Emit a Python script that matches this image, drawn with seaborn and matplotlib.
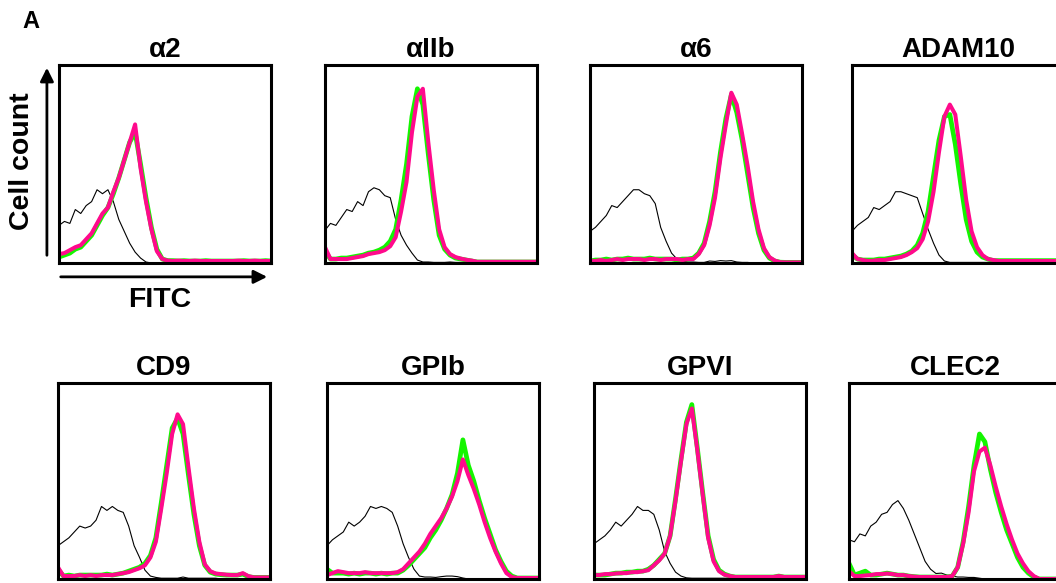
import numpy as np
import pandas as pd
import matplotlib
matplotlib.use("Agg")
import matplotlib.pyplot as plt
import seaborn as sns

# ---------------- data (fraction of panel height, 40 channels across FITC axis) -------------
markers = ["α2", "αIIb", "α6", "ADAM10", "CD9", "GPIb", "GPVI", "CLEC2"]

a2_ctrl = [0.19, 0.21, 0.20, 0.27, 0.25, 0.29, 0.31, 0.37, 0.35, 0.37,
           0.31, 0.22, 0.16, 0.10, 0.055, 0.025, 0.005, 0.0, 0.0, 0.0,
           0.0, 0.0, 0.0, 0.0, 0.0, 0.0, 0.005, 0.0, 0.0, 0.0,
           0.0, 0.0, 0.0, 0.0, 0.0, 0.0, 0.0, 0.0, 0.0, 0.0]
a2_green = [0.03, 0.04, 0.05, 0.07, 0.08, 0.11, 0.14, 0.19, 0.24, 0.28,
            0.35, 0.43, 0.52, 0.61, 0.66, 0.50, 0.33, 0.18, 0.07, 0.02,
            0.012, 0.012, 0.01, 0.012, 0.01, 0.01, 0.01, 0.012, 0.01, 0.01,
            0.01, 0.01, 0.01, 0.01, 0.012, 0.01, 0.01, 0.01, 0.012, 0.01]
a2_pink = [0.045, 0.05, 0.065, 0.08, 0.09, 0.12, 0.15, 0.20, 0.25, 0.28,
           0.36, 0.43, 0.52, 0.61, 0.70, 0.48, 0.31, 0.17, 0.06, 0.02,
           0.012, 0.01, 0.012, 0.01, 0.01, 0.012, 0.01, 0.01, 0.01, 0.01,
           0.01, 0.01, 0.01, 0.012, 0.01, 0.01, 0.012, 0.01, 0.01, 0.01]

a2b_ctrl = [0.165, 0.20, 0.19, 0.23, 0.27, 0.26, 0.31, 0.29, 0.36, 0.38,
            0.37, 0.34, 0.33, 0.22, 0.14, 0.09, 0.05, 0.015, 0.005, 0.005,
            0.003, 0.003, 0.003, 0.005, 0.003, 0.003, 0.003, 0.003, 0.005, 0.003,
            0.0, 0.0, 0.0, 0.0, 0.0, 0.0, 0.0, 0.0, 0.0, 0.0]
a2b_green = [0.06, 0.02, 0.02, 0.025, 0.025, 0.03, 0.035, 0.04, 0.05, 0.055,
             0.065, 0.08, 0.11, 0.17, 0.32, 0.50, 0.74, 0.88, 0.80, 0.55,
             0.32, 0.14, 0.07, 0.04, 0.025, 0.02, 0.015, 0.01, 0.005, 0.005,
             0.005, 0.005, 0.005, 0.005, 0.005, 0.005, 0.005, 0.005, 0.005, 0.005]
a2b_pink = [0.08, 0.02, 0.02, 0.02, 0.02, 0.025, 0.03, 0.035, 0.045, 0.05,
            0.055, 0.065, 0.085, 0.13, 0.26, 0.41, 0.66, 0.84, 0.88, 0.61,
            0.37, 0.17, 0.08, 0.045, 0.03, 0.022, 0.016, 0.012, 0.006, 0.006,
            0.006, 0.006, 0.006, 0.006, 0.006, 0.006, 0.006, 0.006, 0.006, 0.006]

a6_ctrl = [0.16, 0.18, 0.21, 0.24, 0.29, 0.28, 0.31, 0.34, 0.37, 0.37,
           0.35, 0.34, 0.30, 0.18, 0.11, 0.05, 0.02, 0.01, 0.005, 0.005,
           0.003, 0.003, 0.01, 0.008, 0.012, 0.01, 0.012, 0.005, 0.003, 0.003,
           0.0, 0.0, 0.0, 0.0, 0.0, 0.0, 0.0, 0.0, 0.0, 0.0]
a6_green = [0.01, 0.015, 0.015, 0.02, 0.015, 0.02, 0.02, 0.025, 0.02, 0.02,
            0.02, 0.025, 0.02, 0.02, 0.02, 0.02, 0.015, 0.02, 0.02, 0.025,
            0.05, 0.10, 0.21, 0.36, 0.56, 0.73, 0.85, 0.76, 0.62, 0.45,
            0.28, 0.15, 0.065, 0.025, 0.01, 0.004, 0.003, 0.003, 0.003, 0.003]
a6_pink = [0.01, 0.01, 0.015, 0.01, 0.015, 0.02, 0.015, 0.02, 0.02, 0.02,
           0.015, 0.02, 0.02, 0.015, 0.02, 0.02, 0.02, 0.015, 0.02, 0.02,
           0.045, 0.09, 0.19, 0.33, 0.53, 0.70, 0.86, 0.80, 0.65, 0.49,
           0.31, 0.17, 0.075, 0.03, 0.012, 0.004, 0.003, 0.003, 0.003, 0.003]

adam_ctrl = [0.16, 0.19, 0.21, 0.23, 0.28, 0.27, 0.29, 0.31, 0.36, 0.36,
             0.35, 0.34, 0.33, 0.25, 0.17, 0.10, 0.04, 0.01, 0.003, 0.003,
             0.003, 0.003, 0.003, 0.003, 0.003, 0.003, 0.003, 0.01, 0.003, 0.003,
             0.0, 0.0, 0.0, 0.0, 0.0, 0.0, 0.0, 0.0, 0.0, 0.0]
adam_green = [0.04, 0.02, 0.015, 0.015, 0.015, 0.02, 0.02, 0.025, 0.03, 0.035,
              0.045, 0.06, 0.09, 0.15, 0.26, 0.44, 0.62, 0.74, 0.75, 0.60,
              0.40, 0.22, 0.11, 0.055, 0.03, 0.02, 0.012, 0.012, 0.012, 0.012,
              0.012, 0.012, 0.012, 0.012, 0.012, 0.012, 0.012, 0.012, 0.012, 0.012]
adam_pink = [0.05, 0.02, 0.015, 0.01, 0.012, 0.015, 0.015, 0.02, 0.025, 0.03,
             0.04, 0.055, 0.075, 0.12, 0.21, 0.36, 0.56, 0.74, 0.80, 0.75,
             0.54, 0.32, 0.16, 0.08, 0.04, 0.02, 0.015, 0.01, 0.01, 0.01,
             0.01, 0.01, 0.01, 0.01, 0.01, 0.01, 0.01, 0.01, 0.01, 0.01]

cd9_ctrl = [0.17, 0.19, 0.21, 0.24, 0.27, 0.26, 0.27, 0.30, 0.37, 0.35,
            0.37, 0.35, 0.34, 0.27, 0.17, 0.11, 0.045, 0.015, 0.008, 0.004,
            0.004, 0.004, 0.004, 0.01, 0.004, 0.004, 0.004, 0.004, 0.004, 0.004,
            0.0, 0.0, 0.0, 0.0, 0.0, 0.0, 0.0, 0.0, 0.0, 0.0]
cd9_green = [0.05, 0.015, 0.02, 0.015, 0.02, 0.02, 0.02, 0.02, 0.02, 0.025,
             0.02, 0.025, 0.03, 0.04, 0.05, 0.06, 0.08, 0.12, 0.21, 0.39,
             0.58, 0.77, 0.82, 0.74, 0.53, 0.33, 0.17, 0.07, 0.035, 0.025,
             0.022, 0.02, 0.02, 0.02, 0.025, 0.012, 0.008, 0.008, 0.008, 0.008]
cd9_pink = [0.06, 0.015, 0.015, 0.015, 0.02, 0.015, 0.02, 0.015, 0.02, 0.02,
            0.02, 0.025, 0.03, 0.035, 0.045, 0.055, 0.07, 0.11, 0.19, 0.36,
            0.54, 0.74, 0.84, 0.79, 0.57, 0.36, 0.19, 0.075, 0.04, 0.028,
            0.025, 0.022, 0.02, 0.02, 0.03, 0.015, 0.008, 0.008, 0.008, 0.008]

gp1b_ctrl = [0.17, 0.20, 0.22, 0.24, 0.29, 0.27, 0.29, 0.32, 0.37, 0.36,
             0.37, 0.36, 0.34, 0.27, 0.18, 0.11, 0.05, 0.015, 0.01, 0.01,
             0.008, 0.012, 0.015, 0.015, 0.012, 0.005, 0.0, 0.0, 0.0, 0.0,
             0.0, 0.0, 0.0, 0.0, 0.0, 0.0, 0.0, 0.0, 0.0, 0.0]
gp1b_green = [0.05, 0.03, 0.03, 0.03, 0.025, 0.03, 0.025, 0.03, 0.03, 0.025,
              0.03, 0.025, 0.03, 0.03, 0.045, 0.07, 0.10, 0.13, 0.16, 0.21,
              0.25, 0.30, 0.36, 0.43, 0.54, 0.71, 0.58, 0.50, 0.40, 0.31,
              0.23, 0.15, 0.09, 0.04, 0.015, 0.005, 0.005, 0.005, 0.005, 0.005]
gp1b_pink = [0.02, 0.03, 0.04, 0.035, 0.03, 0.03, 0.03, 0.035, 0.03, 0.03,
             0.03, 0.03, 0.03, 0.035, 0.05, 0.08, 0.11, 0.14, 0.18, 0.23,
             0.27, 0.31, 0.36, 0.42, 0.50, 0.61, 0.53, 0.46, 0.38, 0.29,
             0.21, 0.14, 0.08, 0.03, 0.01, 0.005, 0.005, 0.005, 0.005, 0.005]

gp6_ctrl = [0.18, 0.20, 0.22, 0.25, 0.29, 0.27, 0.30, 0.33, 0.37, 0.35,
            0.35, 0.33, 0.25, 0.14, 0.08, 0.035, 0.015, 0.006, 0.004, 0.004,
            0.004, 0.004, 0.004, 0.004, 0.004, 0.004, 0.004, 0.004, 0.004, 0.004,
            0.0, 0.0, 0.0, 0.0, 0.0, 0.0, 0.0, 0.0, 0.0, 0.0]
gp6_green = [0.02, 0.02, 0.02, 0.025, 0.03, 0.03, 0.035, 0.035, 0.04, 0.04,
             0.05, 0.07, 0.10, 0.13, 0.22, 0.41, 0.61, 0.80, 0.89, 0.67,
             0.44, 0.22, 0.10, 0.045, 0.025, 0.015, 0.01, 0.01, 0.01, 0.01,
             0.01, 0.01, 0.01, 0.01, 0.015, 0.01, 0.01, 0.01, 0.01, 0.01]
gp6_pink = [0.02, 0.02, 0.025, 0.025, 0.028, 0.03, 0.03, 0.035, 0.035, 0.04,
            0.045, 0.07, 0.095, 0.13, 0.22, 0.40, 0.60, 0.79, 0.87, 0.66,
            0.43, 0.21, 0.09, 0.04, 0.022, 0.015, 0.01, 0.01, 0.01, 0.01,
            0.01, 0.01, 0.01, 0.01, 0.015, 0.01, 0.01, 0.01, 0.01, 0.01]

clec_ctrl = [0.20, 0.19, 0.23, 0.22, 0.27, 0.29, 0.33, 0.34, 0.38, 0.40,
             0.36, 0.30, 0.23, 0.16, 0.09, 0.05, 0.028, 0.03, 0.02, 0.015,
             0.01, 0.01, 0.008, 0.008, 0.004, 0.0, 0.0, 0.0, 0.0, 0.0,
             0.0, 0.0, 0.0, 0.0, 0.0, 0.0, 0.0, 0.0, 0.0, 0.0]
clec_green = [0.08, 0.02, 0.03, 0.04, 0.02, 0.02, 0.025, 0.03, 0.025, 0.02,
              0.02, 0.015, 0.012, 0.01, 0.01, 0.01, 0.01, 0.01, 0.01, 0.015,
              0.06, 0.19, 0.37, 0.58, 0.74, 0.70, 0.56, 0.44, 0.34, 0.25,
              0.18, 0.11, 0.06, 0.03, 0.01, 0.0, 0.0, 0.0, 0.0, 0.0]
clec_pink = [0.04, 0.015, 0.015, 0.018, 0.02, 0.025, 0.025, 0.028, 0.025, 0.02,
             0.02, 0.015, 0.012, 0.01, 0.01, 0.01, 0.01, 0.01, 0.01, 0.015,
             0.06, 0.18, 0.34, 0.55, 0.65, 0.67, 0.58, 0.47, 0.37, 0.28,
             0.20, 0.13, 0.08, 0.04, 0.015, 0.0, 0.0, 0.0, 0.0, 0.0]

controls = [a2_ctrl, a2b_ctrl, a6_ctrl, adam_ctrl, cd9_ctrl, gp1b_ctrl, gp6_ctrl, clec_ctrl]
greens = [a2_green, a2b_green, a6_green, adam_green, cd9_green, gp1b_green, gp6_green, clec_green]
pinks = [a2_pink, a2b_pink, a6_pink, adam_pink, cd9_pink, gp1b_pink, gp6_pink, clec_pink]

rows = []
for m, c, g, p in zip(markers, controls, greens, pinks):
    for series, vals in (("control", c), ("green", g), ("pink", p)):
        for i, v in enumerate(vals):
            rows.append({"marker": m, "series": series, "channel": i, "count": v})
df = pd.DataFrame(rows)

# ---------------- style -------------
sns.set_theme(style="white")
plt.rcParams["font.family"] = ["Liberation Sans", "DejaVu Sans"]
plt.rcParams["font.weight"] = "bold"
plt.rcParams["text.color"] = "black"

W, H = 1056, 583
fig = plt.figure(figsize=(W / 100, H / 100), dpi=100)

top_left = [59, 325, 590, 852]
bot_left = [58, 327, 594, 849]
panel_w = 212

styles = {"control": ("black", 0.8), "green": ("#14f500", 3.4), "pink": ("#ff0a8c", 2.9)}

axes = []
for k, m in enumerate(markers):
    if k < 4:
        x0, y_top, y_bot = top_left[k], 65, 263
    else:
        x0, y_top, y_bot = bot_left[k - 4], 383, 579
    ax = fig.add_axes([x0 / W, 1 - y_bot / H, panel_w / W, (y_bot - y_top) / H])
    sub = df[df.marker == m]
    for series in ("control", "green", "pink"):
        col, lw = styles[series]
        sns.lineplot(data=sub[sub.series == series], x="channel", y="count",
                     color=col, linewidth=lw, estimator=None, ax=ax, legend=False)
    ax.set_xlim(0, 39)
    ax.set_ylim(0, 1)
    ax.set_xticks([])
    ax.set_yticks([])
    ax.set_xlabel("")
    ax.set_ylabel("")
    for s in ax.spines.values():
        s.set_visible(True)
        s.set_color("black")
        s.set_linewidth(2.2)
        s.set_zorder(5)
    ax.set_title(m, fontsize=20, fontweight="bold", pad=6, color="black")
    axes.append(ax)

# axis arrows on the first panel
ax0 = axes[0]
ax0.annotate("", xy=(-0.057, 1.0), xytext=(-0.057, 0.025), xycoords="axes fraction",
             arrowprops=dict(arrowstyle="-|>", color="black", lw=2, mutation_scale=20),
             annotation_clip=False)
ax0.annotate("", xy=(0.995, -0.07), xytext=(-0.005, -0.07), xycoords="axes fraction",
             arrowprops=dict(arrowstyle="-|>", color="black", lw=2, mutation_scale=20),
             annotation_clip=False)

fig.text(22 / W, 1 - 161 / H, "Cell count", rotation=90, ha="center", va="center",
         fontsize=20.5, fontweight="bold", color="black")
fig.text(160 / W, 1 - 300 / H, "FITC", ha="center", va="center",
         fontsize=20.5, fontweight="bold", color="black")
fig.text(31 / W, 1 - 22 / H, "A", ha="center", va="center",
         fontsize=17, fontweight="bold", color="black")

fig.savefig("out.png", dpi=100)
